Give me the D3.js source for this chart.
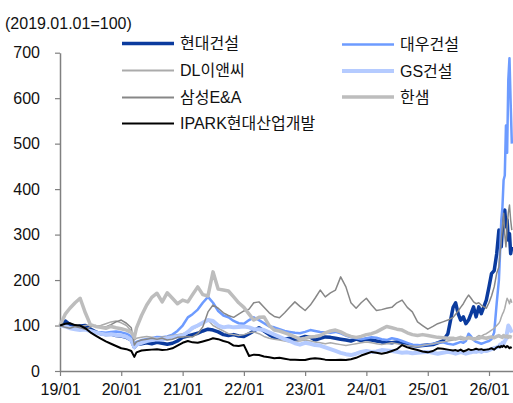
<!DOCTYPE html>
<html><head><meta charset="utf-8">
<script src="https://cdn.jsdelivr.net/npm/d3@7"></script>
<style>
html,body{margin:0;padding:0;background:#fff;}
svg text{font-family:"Liberation Sans",Arial,"Noto Sans CJK KR",sans-serif;}
</style>
</head><body>
<svg id="c" width="513" height="403"></svg>
<script>
// ---- data ----
const dates = [
"2019-01","2019-02","2019-03","2019-04","2019-05","2019-06","2019-07","2019-08","2019-09","2019-10","2019-11","2019-12",
"2020-01","2020-02","2020-03","2020-03-19",
"2020-04","2020-05","2020-06","2020-07","2020-08","2020-09","2020-10","2020-11","2020-12",
"2021-01","2021-02","2021-03","2021-04","2021-05","2021-06","2021-07","2021-08","2021-09","2021-10","2021-11","2021-12",
"2022-01","2022-02","2022-03","2022-04","2022-05","2022-06","2022-07","2022-08","2022-09","2022-10","2022-11","2022-12",
"2023-01","2023-02","2023-03","2023-04","2023-05","2023-06","2023-07","2023-08","2023-09","2023-10","2023-11","2023-12",
"2024-01","2024-02","2024-03","2024-04","2024-05","2024-06","2024-07","2024-08","2024-09","2024-10","2024-11","2024-12",
"2025-01","2025-02","2025-03","2025-04","2025-05",
"2025-06-01","2025-06-16","2025-07-01","2025-07-16","2025-08-01","2025-08-16","2025-09-01","2025-09-16","2025-10-01","2025-10-16",
"2025-11-01","2025-11-16","2025-12-01","2025-12-16","2026-01-01","2026-01-16","2026-02-01","2026-02-16",
"2026-03-01","2026-03-08","2026-03-15","2026-03-22","2026-03-29","2026-04-05","2026-04-12","2026-04-19","2026-04-26","2026-05-03","2026-05-10","2026-05-17"
];

const hyundai = [
100,110,102,96,99,100,92,86,82,80,81,78,
77,74,68,52,
58,60,62,60,63,61,59,61,66,
74,77,80,83,88,92,90,86,80,78,80,77,
76,82,88,95,88,80,74,72,70,72,69,72,
76,74,68,72,75,74,72,70,68,66,70,67,
70,68,66,64,63,62,64,60,58,56,55,56,
57,58,62,66,82,
140,150,126,112,119,104,112,126,141,119,141,126,141,156,185,214,221,258,
310,288,273,317,347,354,317,332,288,302,258,273];

const daewoo = [
100,102,96,94,95,92,88,86,85,84,86,87,
85,82,76,58,
64,68,70,72,75,74,76,80,88,
100,118,125,135,150,163,150,132,122,118,110,105,
104,112,118,112,105,98,96,92,88,86,84,83,
86,90,88,86,85,84,86,83,78,74,72,70,
72,74,73,70,68,72,70,66,62,58,57,56,
58,60,62,63,60,
58,60,62,64,62,66,82,76,68,64,62,60,62,64,66,70,85,150,
200,260,330,360,420,430,540,480,640,688,590,500];

const dl = [
100,98,96,95,97,100,102,98,100,104,108,110,
106,100,88,68,
72,74,76,74,72,75,76,78,80,
82,86,92,98,105,112,100,94,88,82,80,78,
80,84,86,82,76,72,70,68,66,64,65,66,
68,66,64,62,60,62,60,58,56,58,60,62,
64,62,60,58,60,62,60,58,56,55,54,56,
58,60,62,64,66,
68,70,72,70,68,72,76,74,72,74,78,76,80,82,86,90,94,100,
105,110,118,125,130,138,150,160,155,148,158,150];

const gs = [
100,98,94,92,90,91,88,85,82,80,81,79,
78,75,68,52,
58,62,66,68,70,69,72,74,76,
78,86,95,100,106,112,110,100,96,98,96,97,
98,96,92,92,90,85,80,75,70,66,61,58,
62,60,57,56,52,48,44,40,37,35,38,42,
44,42,43,46,45,44,42,40,41,39,40,41,
42,40,38,40,42,
40,38,40,42,40,38,40,41,43,42,44,42,45,44,46,48,50,52,
54,58,56,62,60,66,70,86,100,96,90,84];

const samsung = [
100,96,94,98,95,92,97,100,98,97,102,108,
112,105,95,57,
64,68,70,72,70,72,68,70,74,
75,76,75,82,97,130,145,138,128,122,118,125,
132,136,150,152,140,128,120,117,128,140,152,142,
133,145,160,178,163,172,178,207,185,150,138,150,
160,145,133,135,138,140,150,156,140,130,108,100,
92,98,104,108,112,
118,125,132,140,148,158,167,160,152,148,150,145,141,138,150,165,185,215,
229,259,288,317,347,300,273,317,347,365,332,310];

const hanssem = [
100,125,138,150,160,128,102,98,96,94,98,95,
93,90,85,74,
95,122,145,162,171,152,172,160,148,
156,152,168,185,168,165,218,180,178,176,163,150,
140,125,112,118,119,100,90,88,84,80,75,70,
72,75,76,78,84,88,90,86,80,76,74,76,
80,82,86,92,98,95,92,90,84,80,78,80,
78,76,74,73,72,
72,70,72,74,72,71,73,72,70,71,72,74,73,72,74,75,73,76,
78,76,75,74,78,76,75,77,74,76,75,74];

const ipark = [
100,104,105,101,100,94,85,78,71,65,60,55,
50,48,44,31,
41,45,46,47,48,46,47,50,56,
62,66,63,62,65,68,72,70,66,63,56,55,
57,33,36,35,32,30,28,29,27,25,25,24,
24,27,28,27,25,24,24,25,24,26,29,34,
38,42,40,38,40,44,48,57,52,49,46,43,
41,44,50,49,47,
45,46,44,47,43,45,48,46,47,49,47,48,46,47,48,50,47,52,
54,52,55,53,56,54,52,55,53,50,52,51];

const seriesNames = ["현대건설","대우건설","DL이앤씨","GS건설","삼성E&A","한샘","IPARK현대산업개발"];
const seriesValues = [hyundai, daewoo, dl, gs, samsung, hanssem, ipark];
const yTicks = [0,100,200,300,400,500,600,700];
const xTickLabels = ["19/01","20/01","21/01","22/01","23/01","24/01","25/01","26/01"];
const unitLabel = "(2019.01.01=100)";

// ---- styles ----
const styles = [
  {color:"#0b3b9e", width:3.5},
  {color:"#6d9bff", width:2.5},
  {color:"#ababab", width:1.5},
  {color:"#b5cbff", width:4},
  {color:"#878787", width:1.5},
  {color:"#bdbdbd", width:3.5},
  {color:"#000000", width:2}
];

const parse = s => d3.timeParse("%Y-%m-%d")(s.length === 7 ? s + "-01" : s);
const pDates = dates.map(parse);

const svg = d3.select("#c");
svg.append("rect").attr("width",513).attr("height",403).attr("fill","#fff");

const x = d3.scaleTime().domain([parse("2019-01-01"), parse("2026-05-24")]).range([60, 513]);
const y = d3.scaleLinear().domain([0, 700]).range([371, 52.7]);

// axes
const yAxis = d3.axisLeft(y).tickValues(yTicks).tickSizeInner(5).tickSizeOuter(0).tickPadding(15);
const gy = svg.append("g").attr("transform","translate(60,0)").call(yAxis);
const xTickDates = xTickLabels.map(s => parse("20" + s.slice(0,2) + "-" + s.slice(3) + "-01"));
const xAxis = d3.axisBottom(x).tickValues(xTickDates).tickSizeInner(5).tickSizeOuter(0).tickPadding(8)
  .tickFormat((d,i) => xTickLabels[i]);
const gx = svg.append("g").attr("transform","translate(0,371)").call(xAxis);
[gx, gy].forEach(g => {
  g.select(".domain").attr("stroke","#808080").attr("stroke-width",1.5);
  g.selectAll(".tick line").attr("stroke","#808080").attr("stroke-width",1.2);
  g.selectAll(".tick text").attr("fill","#111").style("font-size","16px");
});

// lines
const line = d3.line().x((d,i) => x(pDates[i])).y(d => y(d));
seriesValues.forEach((vals, k) => {
  svg.append("path").datum(vals)
    .attr("d", line)
    .attr("fill","none")
    .attr("stroke", styles[k].color)
    .attr("stroke-width", styles[k].width)
    .attr("stroke-linejoin","round");
});

// unit label
svg.append("text").attr("x",5).attr("y",29).attr("fill","#111").style("font-size","16px").text(unitLabel);

// legend
const legPos = [
  {lx:122, tx:180, y:43.5},
  {lx:342, tx:400, y:44.5},
  {lx:122, tx:180, y:70.5},
  {lx:342, tx:400, y:71},
  {lx:122, tx:180, y:97.5},
  {lx:342, tx:400, y:97},
  {lx:122, tx:180, y:123.5}
];
seriesNames.forEach((n,k) => {
  const p = legPos[k];
  svg.append("line").attr("x1",p.lx).attr("x2",p.lx+52).attr("y1",p.y).attr("y2",p.y)
    .attr("stroke",styles[k].color).attr("stroke-width",Math.max(styles[k].width,1.8));
  svg.append("text").attr("x",p.tx).attr("y",p.y).attr("dy","0.36em")
    .attr("fill","#111").style("font-size","16px").text(n);
});
</script>
</body></html>
